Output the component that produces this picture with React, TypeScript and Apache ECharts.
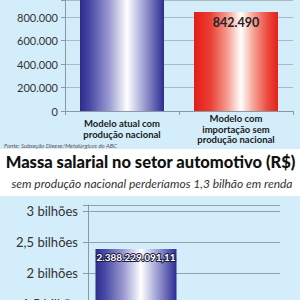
import React, { useEffect, useRef } from "react";
import * as echarts from "echarts";

const topCategories = ["Modelo atual com\nprodução nacional", "Modelo com\nimportação sem\nprodução nacional"];
const topValues = [1500000, 842490];
const topTicks = [0, 200000, 400000, 600000, 800000];

const bottomCategories = ["Modelo atual com\nprodução nacional", "Modelo com\nimportação sem\nprodução nacional"];
const bottomValues = [2388229091.11, 1088229091.11];
const bottomTicks = [1500000000, 2000000000, 2500000000, 3000000000];
const bottomTickLabels = ["1,5 bilhão", "2 bilhões", "2,5 bilhões", "3 bilhões"];

const titleText = "Massa salarial no setor automotivo (R$)";
const subtitleText = "sem produção nacional perderíamos 1,3 bilhão em renda";
const sourceText = "Fonte: Subseção Dieese/Metalúrgicos do ABC";

const BG = "#d4edfa";
const FONT = "Lato";

function thousands(v: number): string {
  return Math.round(v).toString().replace(/\B(?=(\d{3})+(?!\d))/g, ".");
}
function money(v: number): string {
  const intPart = Math.floor(v);
  const cents = Math.round((v - intPart) * 100);
  return thousands(intPart) + "," + String(cents).padStart(2, "0");
}

function blueGrad() {
  return new echarts.graphic.LinearGradient(0, 0, 1, 0, [
    { offset: 0, color: "#2c2c8e" },
    { offset: 0.12, color: "#4a4aa6" },
    { offset: 0.35, color: "#9c9cd2" },
    { offset: 0.56, color: "#ffffff" },
    { offset: 0.7, color: "#bcbce2" },
    { offset: 0.9, color: "#5c5cb0" },
    { offset: 1, color: "#2c2c90" },
  ]);
}
function redGrad() {
  return new echarts.graphic.LinearGradient(0, 0, 1, 0, [
    { offset: 0, color: "#e31d18" },
    { offset: 0.2, color: "#ea4034" },
    { offset: 0.4, color: "#f59e92" },
    { offset: 0.56, color: "#ffffff" },
    { offset: 0.7, color: "#f6a699" },
    { offset: 0.88, color: "#ec483c" },
    { offset: 1, color: "#e3211b" },
  ]);
}

export default function App() {
  const ref = useRef<HTMLDivElement>(null);
  useEffect(() => {
    if (!ref.current) return;
    const chart = echarts.init(ref.current, undefined, { renderer: "svg" });
    const option: any = {
      animation: false,
      textStyle: { fontFamily: FONT },
      graphic: [
        { type: "rect", z: -10, shape: { x: 0, y: 0, width: 300, height: 149 }, style: { fill: BG } },
        { type: "rect", z: -10, shape: { x: 0, y: 196, width: 300, height: 230 }, style: { fill: BG } },
        {
          type: "text", left: 4, top: 142, z: 10,
          style: { text: sourceText, fontFamily: FONT, fontStyle: "italic", fontSize: 6, fill: "#555" },
        },
        {
          type: "text", x: 150.5, y: 162, z: 10,
          style: { text: titleText, fontFamily: FONT, fontWeight: 900, fontSize: 16.5, fill: "#111", align: "center", verticalAlign: "middle" },
        },
        {
          type: "text", x: 152, y: 183, z: 10,
          style: { text: subtitleText, fontFamily: FONT, fontStyle: "italic", fontSize: 12, fill: "#333", align: "center", verticalAlign: "middle" },
        },
      ],
      grid: [
        { left: 65, right: 7, top: 0, height: 111 },
        { left: 88, right: 20, top: 205, height: 192 },
      ],
      xAxis: [
        {
          type: "category", gridIndex: 0, data: topCategories,
          axisLine: { lineStyle: { color: "#8a9aa2", width: 1 } },
          axisTick: { show: true, lineStyle: { color: "#8a9aa2" }, length: 4 },
          axisLabel: {
            interval: 0, margin: 18, verticalAlign: "middle", fontFamily: FONT, fontWeight: "bold",
            fontSize: 9.5, lineHeight: 10.5, color: "#1a1a1a",
          },
        },
        {
          type: "category", gridIndex: 1, data: bottomCategories,
          axisLine: { lineStyle: { color: "#8a9aa2" } },
          axisTick: { show: true },
          axisLabel: { show: false },
        },
      ],
      yAxis: [
        {
          type: "value", gridIndex: 0, min: 0, max: 944681, interval: 200000,
          axisLine: { show: true, lineStyle: { color: "#8a9aa2" } },
          axisTick: { show: true, length: 4, lineStyle: { color: "#8a9aa2" } },
          splitLine: { show: true, lineStyle: { color: "#a9bac2", width: 1 } },
          axisLabel: {
            fontFamily: FONT, fontSize: 11, color: "#333", margin: 7,
            formatter: (v: number) => (topTicks.indexOf(v) >= 0 ? thousands(v) : ""),
          },
        },
        {
          type: "value", gridIndex: 1, min: 0, max: 3100000000, interval: 500000000,
          axisLine: { show: true, lineStyle: { color: "#8a9aa2" } },
          axisTick: { show: true, length: 5, lineStyle: { color: "#8a9aa2" } },
          splitLine: { show: true, lineStyle: { color: "#8ea3ad", width: 1.2 } },
          axisLabel: {
            fontFamily: FONT, fontSize: 13, color: "#333", margin: 10,
            formatter: (v: number) => {
              const i = bottomTicks.indexOf(v);
              return i >= 0 ? bottomTickLabels[i] : "";
            },
          },
        },
      ],
      series: [
        {
          type: "bar", xAxisIndex: 0, yAxisIndex: 0, barWidth: 84, clip: true,
          data: topValues.map((v, i) => ({
            value: v,
            itemStyle: { color: i === 0 ? blueGrad() : redGrad() },
            label: {
              show: i === 1, position: "insideTop", distance: 4,
              fontFamily: FONT, fontWeight: "bold", fontSize: 12.5, color: "#222",
              formatter: (p: any) => thousands(p.value),
            },
          })),
        },
        {
          type: "bar", xAxisIndex: 1, yAxisIndex: 1, barWidth: 81, clip: true,
          data: bottomValues.map((v, i) => ({
            value: v,
            itemStyle: { color: i === 0 ? blueGrad() : redGrad() },
            label: {
              show: i === 0, position: "insideTop", distance: 3,
              fontFamily: FONT, fontWeight: "bold", fontSize: 10, color: "#fff",
              textBorderColor: "#1a1a40", textBorderWidth: 2,
              formatter: (p: any) => money(p.value),
            },
          })),
        },
      ],
    };
    chart.setOption(option);
    return () => chart.dispose();
  }, []);
  return (
    <div style={{ position: "absolute", left: 0, top: 0, width: 300, height: 300, overflow: "hidden", background: "#fff" }}>
      <div ref={ref} style={{ width: 300, height: 420 }} />
    </div>
  );
}
